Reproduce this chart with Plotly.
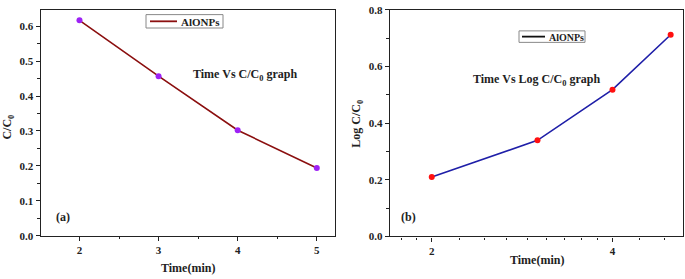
import plotly.graph_objects as go

# Data
time_a = [2, 3, 4, 5]
c_ratio = [0.617, 0.457, 0.302, 0.194]
time_b = [2, 3, 4, 5]
log_c_ratio = [0.210, 0.339, 0.518, 0.712]
series_name = "AlONPs"

ya_ticks = [0.0, 0.1, 0.2, 0.3, 0.4, 0.5, 0.6]
xa_ticks = [2, 3, 4, 5]
yb_ticks = [0.0, 0.2, 0.4, 0.6, 0.8]
xb_ticks = [2, 4]
xb_minor = [1.778, 1.889, 2.222, 2.444, 2.667, 2.889, 3.111, 3.333, 3.556, 3.778, 4.444, 4.889]

FONT = "Liberation Serif"
AX = "#222222"
TXT = "#222222"

fig = go.Figure()

fig.add_trace(go.Scatter(x=time_a, y=c_ratio, mode="lines+markers", name=series_name,
                         line=dict(color="#8b0f0f", width=1.6),
                         marker=dict(color="#9d22f5", size=6),
                         xaxis="x", yaxis="y", showlegend=False))
fig.add_trace(go.Scatter(x=time_b, y=log_c_ratio, mode="lines+markers", name=series_name,
                         line=dict(color="#1f1fa8", width=1.6),
                         marker=dict(color="#ff1010", size=6),
                         xaxis="x2", yaxis="y2", showlegend=False))

W, H = 685, 279
def px(x): return x / W
def py(y): return 1 - y / H

tickfont = dict(family=FONT, size=11, color=TXT)
common = dict(showline=True, mirror=True, linecolor=AX, linewidth=1.4,
              ticks="outside", ticklen=4, tickwidth=1, tickcolor=AX,
              showgrid=False, zeroline=False, tickfont=tickfont,
              ticklabeloverflow="allow")

fig.update_layout(
    width=W, height=H,
    margin=dict(l=0, r=0, t=0, b=0),
    paper_bgcolor="white", plot_bgcolor="white",
    font=dict(family=FONT, color=TXT),
    showlegend=False,
    xaxis=dict(domain=[px(40.7), px(335)], range=[1.51, 5.23], anchor="y",
               tickvals=xa_ticks, ticktext=[f"<b>{v}</b>" for v in xa_ticks],
               minor=dict(tickvals=[1.5, 2.5, 3.5, 4.5], ticks="outside", ticklen=2.5, tickcolor=AX),
               **common),
    yaxis=dict(domain=[py(240), py(4)], range=[0, 0.647], anchor="x",
               tickvals=ya_ticks, ticktext=[f"<b>{v:.1f}</b>" for v in ya_ticks],
               minor=dict(dtick=0.05, ticks="outside", ticklen=2.5, tickcolor=AX),
               **common),
    xaxis2=dict(domain=[px(390), px(682.7)], type="log", range=[0.2315, 0.719], anchor="y2",
                tickvals=xb_ticks, ticktext=[f"<b>{v}</b>" for v in xb_ticks],
                minor=dict(tickvals=xb_minor, ticks="outside", ticklen=2.5, tickcolor=AX),
                **common),
    yaxis2=dict(domain=[py(240.7), py(4)], range=[0, 0.8], anchor="x2",
                tickvals=yb_ticks, ticktext=[f"<b>{v:.1f}</b>" for v in yb_ticks],
                minor=dict(dtick=0.1, ticks="outside", ticklen=2.5, tickcolor=AX),
                **common),
)

# Legend boxes (drawn as in the original figure)
legends = [
    dict(box=(146, 9, 223, 23), line=(150, 177), color="#8b0f0f", tx=179, size=11),
    dict(box=(519, 26, 585, 38), line=(522, 545), color="#111111", tx=547, size=10),
]
for lg in legends:
    x0, y0, x1, y1 = lg["box"]
    fig.add_shape(type="rect", xref="paper", yref="paper", x0=px(x0), x1=px(x1), y0=py(y1), y1=py(y0),
                  line=dict(color="#888888", width=1), fillcolor="white", layer="above")
    ym = (y0 + y1) / 2
    fig.add_shape(type="line", xref="paper", yref="paper", x0=px(lg["line"][0]), x1=px(lg["line"][1]),
                  y0=py(ym), y1=py(ym), line=dict(color=lg["color"], width=1.8), layer="above")
    fig.add_annotation(x=px(lg["tx"]), y=py(ym + 1), xref="paper", yref="paper", text=f"<b>{series_name}</b>",
                       showarrow=False, xanchor="left", yanchor="middle",
                       font=dict(family=FONT, size=lg["size"], color=TXT))

ann = [
    dict(x=px(245), y=py(72), text="<b>Time Vs C/C<sub>0</sub> graph</b>", size=12),
    dict(x=px(63), y=py(221), text="<b>(a)</b>", size=12),
    dict(x=px(536), y=py(77), text="<b>Time Vs Log C/C<sub>0</sub> graph</b>", size=12),
    dict(x=px(408), y=py(220), text="<b>(b)</b>", size=12),
    dict(x=px(188), y=py(274), text="<b>Time(min)</b>", size=12),
    dict(x=px(537), y=py(265), text="<b>Time(min)</b>", size=12),
]
for a in ann:
    fig.add_annotation(x=a["x"], y=a["y"], xref="paper", yref="paper", text=a["text"],
                       showarrow=False, xanchor="center", yanchor="middle",
                       font=dict(family=FONT, size=a["size"], color=TXT))

fig.add_annotation(x=px(8), y=py(126), xref="paper", yref="paper", text="<b>C/C<sub>0</sub></b>",
                   textangle=-90, showarrow=False, xanchor="center", yanchor="middle",
                   font=dict(family=FONT, size=12, color=TXT))
fig.add_annotation(x=px(357), y=py(123), xref="paper", yref="paper", text="<b>Log C/C<sub>0</sub></b>",
                   textangle=-90, showarrow=False, xanchor="center", yanchor="middle",
                   font=dict(family=FONT, size=12, color=TXT))

fig.write_html("out.html", config={"displayModeBar": False},
               post_script="document.body.style.margin='0px';")
